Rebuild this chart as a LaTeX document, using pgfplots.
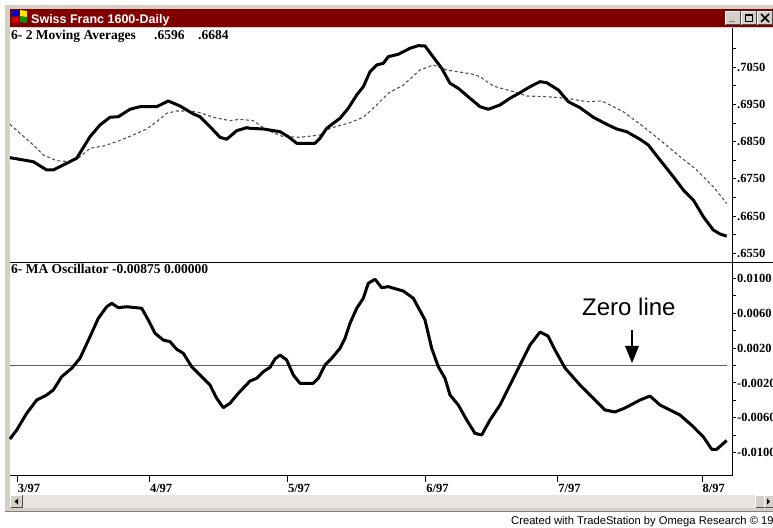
\documentclass[border=0pt]{standalone}
\usepackage{pgfplots}
\usepackage{pgfplotstable}
\pgfplotsset{compat=1.18}
\usepackage{fontspec}
\setmainfont{Liberation Serif}
\newfontfamily\winsans{Liberation Sans}

\definecolor{titlered}{HTML}{800000}
\definecolor{winface}{HTML}{D4D0C8}
\definecolor{winshadow}{HTML}{808080}
\definecolor{scrolltrack}{HTML}{E8E5DE}
\definecolor{zerogray}{HTML}{5A5A5A}
\definecolor{slowgray}{HTML}{505050}

\newcommand{\tickfont}{\fontsize{12.5}{14}\selectfont\bfseries}
\newcommand{\panelfont}{\fontsize{13.5}{15}\selectfont\bfseries}

% fast moving average (x = chart position, y = price)
\pgfplotstableread{
x y
10 0.68070
33.3 0.67962
46.7 0.67739
53.3 0.67739
66.7 0.67919
76.7 0.68054
90 0.68634
100 0.68949
110 0.69156
118.3 0.69172
130 0.69371
140 0.69441
156.7 0.69441
168.3 0.69594
180 0.69460
193.3 0.69245
200 0.69172
210 0.68903
220 0.68618
226.7 0.68565
236.7 0.68796
246.7 0.68876
250 0.68860
263.3 0.68841
280 0.68769
288.3 0.68634
296.7 0.68457
315 0.68457
320 0.68591
326.7 0.68860
340 0.69129
348.3 0.69398
356.7 0.69755
363.3 0.69978
370 0.70382
376.7 0.70562
383.3 0.70608
388.3 0.70785
398.3 0.70849
410 0.71011
418.3 0.71081
425 0.71073
431.7 0.70831
441.7 0.70473
450 0.70070
458.3 0.69935
470 0.69667
480 0.69441
488.3 0.69371
500 0.69487
510 0.69667
520 0.69817
530 0.69978
540 0.70113
546.7 0.70086
558.3 0.69890
568.3 0.69575
580 0.69414
593.3 0.69156
606.7 0.68968
616.7 0.68841
626.7 0.68769
640 0.68565
648.3 0.68411
660 0.68008
673.3 0.67559
683.3 0.67202
693.3 0.66933
703.3 0.66484
713.3 0.66126
720 0.66019
726.7 0.65960
}\fastma

% slow moving average
\pgfplotstableread{
x y
10 0.68968
20 0.68726
33.3 0.68411
43.3 0.68142
56.7 0.67989
70 0.67962
78.3 0.68054
90 0.68323
103.3 0.68384
116.7 0.68500
133.3 0.68680
146.7 0.68841
156.7 0.69038
166.7 0.69263
176.7 0.69325
190 0.69325
200 0.69280
213.3 0.69156
230 0.69065
240 0.69102
253.3 0.69065
266.7 0.68815
283.3 0.68634
300 0.68618
320 0.68680
330 0.68860
350 0.69011
363.3 0.69156
376.7 0.69487
388.3 0.69801
403.3 0.70024
420 0.70427
433.3 0.70562
446.7 0.70427
473.3 0.70312
480 0.70247
493.3 0.69997
513.3 0.69844
526.7 0.69728
546.7 0.69710
566.7 0.69667
586.7 0.69575
601.7 0.69594
623.3 0.69306
643.3 0.68903
660 0.68546
680 0.68097
696.7 0.67739
713.3 0.67290
726.7 0.66840
}\slowma

% MA oscillator
\pgfplotstableread{
x y
10 -0.00843
16.7 -0.00740
26.7 -0.00548
36.7 -0.00396
46.7 -0.00338
53.3 -0.00281
61.7 -0.00128
71.7 -0.00032
80 0.00083
90 0.00330
98.3 0.00541
106.7 0.00674
111.7 0.00713
118.3 0.00663
126.7 0.00674
141.7 0.00656
148.3 0.00522
155 0.00369
163.3 0.00292
170 0.00273
176.7 0.00186
183.3 0.00140
191.7 -0.00014
200 -0.00109
210 -0.00224
216.7 -0.00376
223.3 -0.00484
230 -0.00433
238.3 -0.00319
250 -0.00178
256.7 -0.00147
263.3 -0.00071
270 -0.00021
275 0.00075
280 0.00120
286.7 0.00063
293.3 -0.00109
300 -0.00204
313.3 -0.00204
318.3 -0.00147
325 0.00006
331.7 0.00083
340 0.00197
345 0.00312
350 0.00484
356.7 0.00656
363.3 0.00771
368.3 0.00943
375 0.00989
381.7 0.00892
388.3 0.00904
403.3 0.00854
413.3 0.00771
425 0.00522
431.7 0.00197
438.3 -0.00014
445 -0.00147
450 -0.00338
458.3 -0.00453
466.7 -0.00625
475 -0.00778
481.7 -0.00797
490 -0.00625
500 -0.00453
510 -0.00224
520 0.00006
530 0.00235
540 0.00384
548 0.00338
555 0.00178
565 -0.00029
580 -0.00224
595 -0.00396
605 -0.00510
615 -0.00533
625 -0.00487
640 -0.00396
650 -0.00350
660 -0.00453
670 -0.00510
680 -0.00568
693.3 -0.00702
703.3 -0.00817
711.7 -0.00961
716.7 -0.00961
726.7 -0.00860
}\maosc

\begin{document}
\begin{tikzpicture}[x=1pt,y=1pt]
\useasboundingbox (0,0) rectangle (773,527);
\clip (0,0) rectangle (773,527);
\fill[white] (0,0) rectangle (773,527);

% window frame
\fill[winface] (5,15) rectangle (773,522);
\draw[winshadow, line width=1pt] (5,16) -- (773,16);
\fill[white] (10,32) rectangle (773,498.5);

% title bar
\fill[titlered] (10,500) rectangle (773,518);
% little icon
\fill[red!85!black] (12,504) -- (19,505) -- (19,511) -- (12,510) -- cycle;
\fill[blue!80!black] (12,510) -- (19,511) -- (19,517) -- (12,516) -- cycle;
\fill[green!60!black] (20,505) -- (27,504) -- (27,510) -- (20,511) -- cycle;
\fill[yellow!90!orange] (20,511) -- (27,510) -- (27,516) -- (20,517) -- cycle;
\node[anchor=base west, inner sep=0pt, text=white, font=\winsans\bfseries\fontsize{12.5}{14}\selectfont]
  at (31,503) {Swiss Franc 1600-Daily};
% window buttons
\foreach \bx in {725,741,757}{
  \fill[winface] (\bx,502) rectangle (\bx+16,516);
  \draw[white, line width=1pt] (\bx+0.5,502.5) -- (\bx+0.5,515.5) -- (\bx+15.5,515.5);
  \draw[black!70, line width=1pt] (\bx+0.5,502.5) -- (\bx+15.5,502.5) -- (\bx+15.5,515.5);
}
\draw[winshadow, line width=1.5pt] (729,505.5) -- (735,505.5);
\draw[black, line width=1pt] (745.5,505) rectangle (752.5,512.5);
\draw[black, line width=1.5pt] (745.5,512) -- (752.5,512);
\draw[black, line width=1.6pt] (761,505) -- (769,513) (761,513) -- (769,505);

% scrollbar
\fill[scrolltrack] (10,19) rectangle (773,32);
\foreach \bx in {10,755,764}{
  \fill[winface] (\bx,19) rectangle (\bx+13,32);
  \draw[white, line width=1pt] (\bx+0.5,19.5) -- (\bx+0.5,31.5) -- (\bx+12.5,31.5);
  \draw[black!70, line width=1pt] (\bx+0.5,19.5) -- (\bx+12.5,19.5) -- (\bx+12.5,31.5);
}
\fill[black] (14.5,25.5) -- (18,28.5) -- (18,22.5) -- cycle;
\fill[black] (770,25.5) -- (767,28.5) -- (767,22.5) -- cycle;

% upper panel: two moving averages
\begin{axis}[
  at={(10pt,264pt)}, anchor=south west,
  scale only axis, width=722pt, height=235pt,
  xmin=10, xmax=732, ymin=0.65239, ymax=0.71556,
  axis x line=none, axis y line*=right,
  axis line style={-, line width=1pt, black},
  scaled y ticks=false,
  ytick={0.6550,0.6650,0.6750,0.6850,0.6950,0.7050},
  yticklabels={.6550,.6650,.6750,.6850,.6950,.7050},
  minor ytick={0.6600,0.6700,0.6800,0.6900,0.7000,0.7100},
  tick align=outside, major tick length=3.5pt, minor tick length=3.5pt,
  tick style={black, line width=1pt},
  yticklabel style={font=\tickfont, anchor=west, inner sep=0pt, xshift=1.5pt},
  clip=false,
]
\addplot[slowgray, line width=1.1pt, dash pattern=on 3pt off 2.5pt] table {\slowma};
\addplot[black, line width=3pt, line join=round] table {\fastma};
\end{axis}

% divider between panels
\draw[black, line width=1pt] (10,264) -- (773,264);

% lower panel: MA oscillator
\begin{axis}[
  at={(10pt,51pt)}, anchor=south west,
  scale only axis, width=722pt, height=213pt,
  xmin=10, xmax=732, ymin=-0.012672, ymax=0.011755,
  axis x line*=bottom, axis y line*=right,
  axis line style={-, line width=1pt, black},
  scaled y ticks=false, scaled x ticks=false,
  ytick={-0.0100,-0.0060,-0.0020,0.0020,0.0060,0.0100},
  yticklabels={-0.0100,-0.0060,-0.0020,0.0020,0.0060,0.0100},
  minor ytick={-0.008,-0.004,0,0.004,0.008},
  xtick=\empty,
  minor xtick={49.3,81,112.3,144.3,174.3,206,237.7,269.3,300,331.7,363.3,394.3,456.7,488.3,520,551.7,583.3,615,646.7,678.3,709.3},
  extra x ticks={17.3,149.3,287.3,425.7,557.7,702},
  extra x tick labels={3/97,4/97,5/97,6/97,7/97,8/97},
  extra x tick style={major tick length=6pt, xticklabel style={font=\tickfont, anchor=north west, inner sep=0pt, xshift=0.5pt, yshift=-2pt}},
  tick align=outside, major tick length=3.5pt, minor tick length=3.5pt,
  tick style={black, line width=1pt},
  yticklabel style={font=\tickfont, anchor=west, inner sep=0pt, xshift=1.5pt},
  clip=false,
]
\addplot[zerogray, line width=1.2pt] coordinates {(10,0) (726.7,0)};
\addplot[black, line width=3pt, line join=round] table {\maosc};
\end{axis}

% panel captions
\node[anchor=base west, inner sep=0pt, font=\panelfont] at (11,487) {6- 2 Moving Averages};
\node[anchor=base west, inner sep=0pt, font=\panelfont] at (154,487) {.6596};
\node[anchor=base west, inner sep=0pt, font=\panelfont] at (198,487) {.6684};
\node[anchor=base west, inner sep=0pt, font=\panelfont] at (11,253.7) {6- MA Oscillator};
\node[anchor=base west, inner sep=0pt, font=\panelfont] at (112,253.7) {-0.00875};
\node[anchor=base west, inner sep=0pt, font=\panelfont] at (164,253.7) {0.00000};

% annotation
\node[anchor=base west, inner sep=0pt, font=\winsans\fontsize{24}{28}\selectfont] at (582,211) {Zero line};
\draw[black, line width=2.5pt] (632,197) -- (632,178);
\fill[black] (625,181) -- (639,181) -- (632,164) -- cycle;

% credit line
\node[anchor=base west, inner sep=0pt, font=\winsans\fontsize{11.2}{13}\selectfont] at (511,2) {Created with TradeStation by Omega Research © 1997};
\end{tikzpicture}
\end{document}
